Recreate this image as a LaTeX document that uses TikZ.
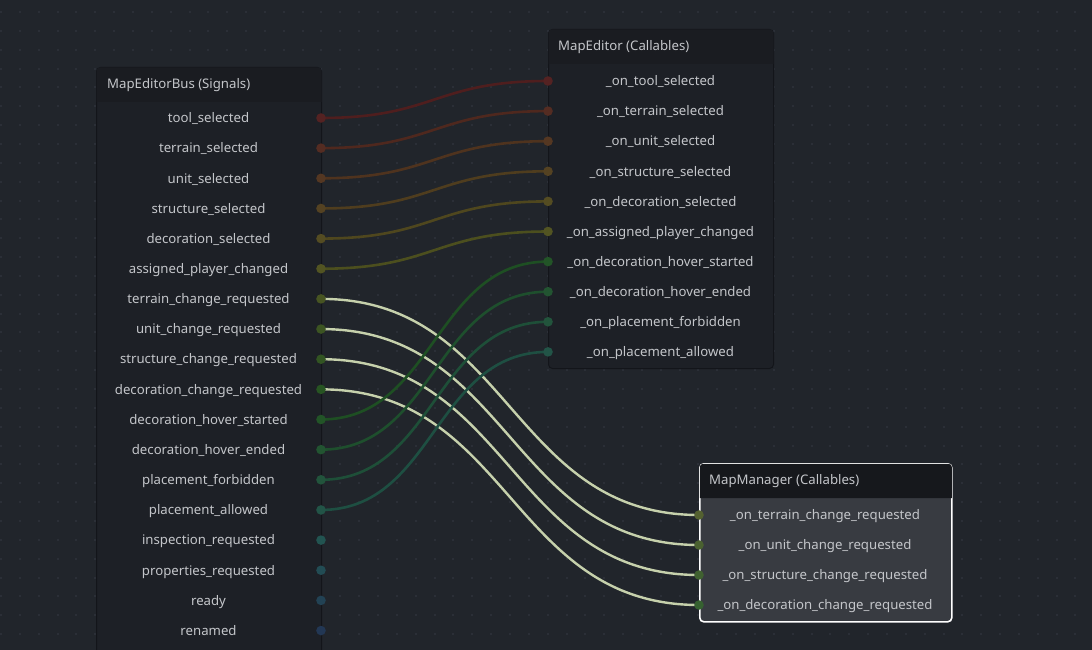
\documentclass[tikz,border=0pt]{standalone}
\usepackage{fontspec}
\setmainfont{Noto Sans}
\usetikzlibrary{calc}

\definecolor{canvas}{HTML}{21252B}
\definecolor{griddot}{HTML}{2B2F37}
\definecolor{bodyc}{HTML}{1D2026}
\definecolor{headc}{HTML}{1A1C21}
\definecolor{edgec}{HTML}{13151A}
\definecolor{selbody}{HTML}{383B41}
\definecolor{selhead}{HTML}{16181C}
\definecolor{txtc}{HTML}{C4C6CA}
\definecolor{livec}{HTML}{C6D1AC}

\tikzset{
  panel/.style={fill=bodyc, draw=edgec, line width=1pt, rounded corners=4pt,
    anchor=north west, inner sep=0pt},
  title/.style={text=txtc, font=\fontsize{13.2}{15}\selectfont, anchor=west,
    inner sep=0pt},
  row/.style={text=txtc, font=\fontsize{13.2}{15}\selectfont, inner sep=0pt,
    text height=9pt, text depth=2.5pt},
  wire/.style={line width=2.6pt, line cap=round},
  live/.style={line width=2.4pt, line cap=round, livec},
}

\begin{document}
\begin{tikzpicture}[x=1pt,y=-1pt]

\fill[canvas] (0,0) rectangle (1092,650);
\useasboundingbox (0,0) rectangle (1092,650);

% dot grid
\foreach \gx in {0,...,57}
  \foreach \gy in {0,...,34}
    \fill[griddot] ({18.85*\gx},{11+18.85*\gy}) rectangle +(2,2);

% port anchors
\foreach \i in {1,...,18}
  \coordinate (bus-p\i) at (321,{118+30.15*(\i-1)});
\foreach \i in {1,...,10}
  \coordinate (ed-p\i) at (548,{81+30.1*(\i-1)});
\foreach \i in {1,...,4}
  \coordinate (mm-p\i) at (699,{515+30*(\i-1)});

% connections to MapManager (selected)
\foreach \s/\t in {7/1,8/2,9/3,10/4}
  \draw[live] (bus-p\s) .. controls +(189,0) and +(-189,0) .. (mm-p\t);

% connections to MapEditor
\foreach \s/\t in {1/1,2/2,3/3,4/4,5/5,6/6,11/7,12/8,13/9,14/10}{
  \pgfmathsetmacro\hue{(\s-1)*0.035}
  \definecolor{pc}{hsb}{\hue,0.62,0.31}
  \draw[wire, pc] (bus-p\s) .. controls +(113.5,0) and +(-113.5,0) .. (ed-p\t);
}

% MapEditorBus
\node[panel, minimum width=225pt, minimum height=595pt] (bus) at (96,67) {};
\fill[headc] ($(bus.north west)+(0.5,35)$) [rounded corners=3.5pt]
  -- ($(bus.north west)+(0.5,0.5)$) -- ($(bus.north east)+(-0.5,0.5)$)
  [sharp corners] -- ($(bus.north east)+(-0.5,35)$) -- cycle;
\node[title] (bus-title) at (107,85) {MapEditorBus (Signals)};
\foreach \lbl [count=\i] in {tool\_selected, terrain\_selected, unit\_selected,
    structure\_selected, decoration\_selected, assigned\_player\_changed,
    terrain\_change\_requested, unit\_change\_requested,
    structure\_change\_requested, decoration\_change\_requested,
    decoration\_hover\_started, decoration\_hover\_ended,
    placement\_forbidden, placement\_allowed, inspection\_requested,
    properties\_requested, ready, renamed}
  \node[row] (bus-r\i) at (208.5,{119.5+30.15*(\i-1)}) {\lbl};

% MapEditor
\node[panel, minimum width=225pt, minimum height=339pt] (ed) at (548,29) {};
\fill[headc] ($(ed.north west)+(0.5,35)$) [rounded corners=3.5pt]
  -- ($(ed.north west)+(0.5,0.5)$) -- ($(ed.north east)+(-0.5,0.5)$)
  [sharp corners] -- ($(ed.north east)+(-0.5,35)$) -- cycle;
\node[title] (ed-title) at (558,47) {MapEditor (Callables)};
\foreach \lbl [count=\i] in {\_on\_tool\_selected, \_on\_terrain\_selected,
    \_on\_unit\_selected, \_on\_structure\_selected,
    \_on\_decoration\_selected, \_on\_assigned\_player\_changed,
    \_on\_decoration\_hover\_started, \_on\_decoration\_hover\_ended,
    \_on\_placement\_forbidden, \_on\_placement\_allowed}
  \node[row] (ed-r\i) at (660.5,{82.5+30.1*(\i-1)}) {\lbl};

% MapManager (selected)
\node[panel, fill=selbody, draw=white, line width=1.6pt,
  minimum width=252pt, minimum height=158pt] (mm) at (699,463) {};
\fill[selhead] ($(mm.north west)+(0.8,35)$) [rounded corners=3.2pt]
  -- ($(mm.north west)+(0.8,0.8)$) -- ($(mm.north east)+(-0.8,0.8)$)
  [sharp corners] -- ($(mm.north east)+(-0.8,35)$) -- cycle;
\node[title] (mm-title) at (709,481) {MapManager (Callables)};
\foreach \lbl [count=\i] in {\_on\_terrain\_change\_requested,
    \_on\_unit\_change\_requested, \_on\_structure\_change\_requested,
    \_on\_decoration\_change\_requested}
  \node[row] (mm-r\i) at (825,{516.5+30*(\i-1)}) {\lbl};

% ports
\foreach \i in {1,...,18}{
  \pgfmathsetmacro\hue{(\i-1)*0.035}
  \definecolor{pc}{hsb}{\hue,0.6,0.33}
  \fill[pc] (bus-p\i) circle (4.8pt);
}
\foreach \s/\t in {1/1,2/2,3/3,4/4,5/5,6/6,11/7,12/8,13/9,14/10}{
  \pgfmathsetmacro\hue{(\s-1)*0.035}
  \definecolor{pc}{hsb}{\hue,0.6,0.33}
  \fill[pc] (ed-p\t) circle (4.8pt);
}
\foreach \s/\t in {7/1,8/2,9/3,10/4}{
  \pgfmathsetmacro\hue{(\s-1)*0.035}
  \definecolor{pc}{hsb}{\hue,0.5,0.38}
  \fill[pc] (mm-p\t) circle (4.8pt);
}

\end{tikzpicture}
\end{document}
